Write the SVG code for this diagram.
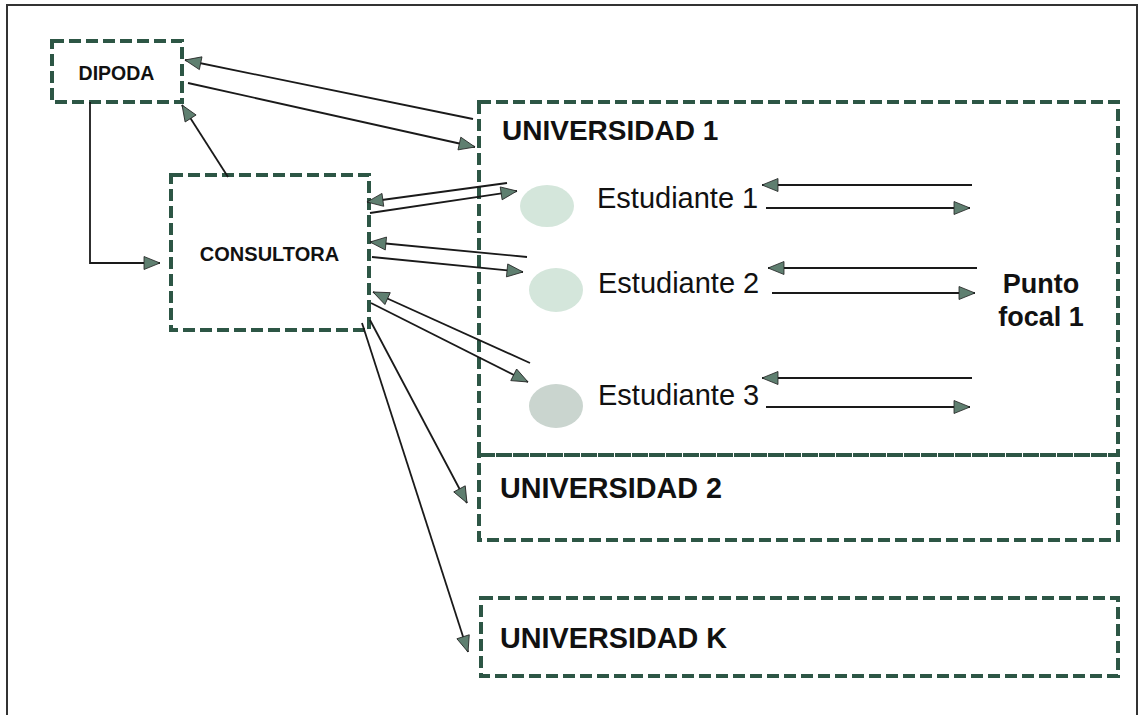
<svg xmlns="http://www.w3.org/2000/svg" width="1139" height="715" viewBox="0 0 1139 715">
<style>
.box{fill:none;stroke:#2d5645;stroke-width:4;stroke-dasharray:12 5}
.lbl{font-family:"Liberation Sans",Arial,sans-serif;font-weight:bold;fill:#111}
.stu{font-family:"Liberation Sans",Arial,sans-serif;font-size:29px;fill:#111}
.con{fill:none;stroke:#1a1a1a;stroke-width:1.8;marker-end:url(#ah)}
.dot{fill:#d4e6db}
</style>
<defs>
<marker id="ah" markerUnits="userSpaceOnUse" markerWidth="20" markerHeight="16" refX="17" refY="8" orient="auto">
<path d="M1,1.5 L17,8 L1,14.5 Z" fill="#5f7f70" stroke="#222" stroke-width="0.8"/>
</marker>
</defs>
<rect x="0" y="0" width="1139" height="715" fill="#fff"/>
<path d="M7,720 L7,5 L1137,5 L1137,720" fill="none" stroke="#333" stroke-width="2"/>

<g id="dipoda">
<rect class="box" x="52" y="41" width="130" height="61"/>
<text class="lbl" x="116.5" y="80" font-size="19.5" text-anchor="middle">DIPODA</text>
</g>
<g id="consultora">
<rect class="box" x="171" y="175" width="198" height="155"/>
<text class="lbl" x="269.5" y="261" font-size="20" text-anchor="middle">CONSULTORA</text>
</g>
<g id="universidad1">
<rect class="box" x="479" y="102" width="639" height="353"/>
<text class="lbl" x="502" y="140" font-size="28">UNIVERSIDAD 1</text>
</g>
<g id="estudiante1">
<ellipse class="dot" cx="547" cy="206" rx="27" ry="21"/>
<text class="stu" x="597" y="208">Estudiante 1</text>
</g>
<g id="estudiante2">
<ellipse class="dot" cx="556" cy="290" rx="27" ry="22"/>
<text class="stu" x="598" y="293">Estudiante 2</text>
</g>
<g id="estudiante3">
<ellipse cx="556" cy="406" rx="27" ry="22" fill="#cad5cf"/>
<text class="stu" x="598" y="405">Estudiante 3</text>
</g>
<g id="puntofocal1">
<text class="lbl" x="1041" y="293" font-size="27" text-anchor="middle">Punto</text>
<text class="lbl" x="1041" y="326" font-size="27" text-anchor="middle">focal 1</text>
</g>
<g id="universidad2">
<rect class="box" x="479" y="455" width="639" height="85"/>
<text class="lbl" x="500" y="498" font-size="30" textLength="222" lengthAdjust="spacingAndGlyphs">UNIVERSIDAD 2</text>
</g>
<g id="universidadK">
<rect class="box" x="481" y="598" width="637" height="78"/>
<text class="lbl" x="500" y="648" font-size="30" textLength="227" lengthAdjust="spacingAndGlyphs">UNIVERSIDAD K</text>
</g>

<g id="connectors">
<line class="con" x1="473" y1="119" x2="185" y2="60"/>
<line class="con" x1="188" y1="83" x2="475" y2="147"/>
<line class="con" x1="228" y1="177" x2="182" y2="105"/>
<polyline class="con" points="90,102 90,263 160,263"/>
<line class="con" x1="507" y1="183" x2="367" y2="202"/>
<line class="con" x1="370" y1="213" x2="517" y2="191"/>
<line class="con" x1="527" y1="257" x2="370" y2="242"/>
<line class="con" x1="372" y1="257" x2="523" y2="272"/>
<line class="con" x1="530" y1="363" x2="373" y2="292"/>
<line class="con" x1="371" y1="303" x2="528" y2="382"/>
<line class="con" x1="370" y1="320" x2="467" y2="503"/>
<line class="con" x1="362" y1="323" x2="468" y2="652"/>
<line class="con" x1="972" y1="185" x2="762" y2="185"/>
<line class="con" x1="766" y1="208" x2="970" y2="208"/>
<line class="con" x1="977" y1="268" x2="768" y2="268"/>
<line class="con" x1="772" y1="293" x2="975" y2="293"/>
<line class="con" x1="972" y1="378" x2="762" y2="378"/>
<line class="con" x1="766" y1="407" x2="970" y2="407"/>
</g>
</svg>
